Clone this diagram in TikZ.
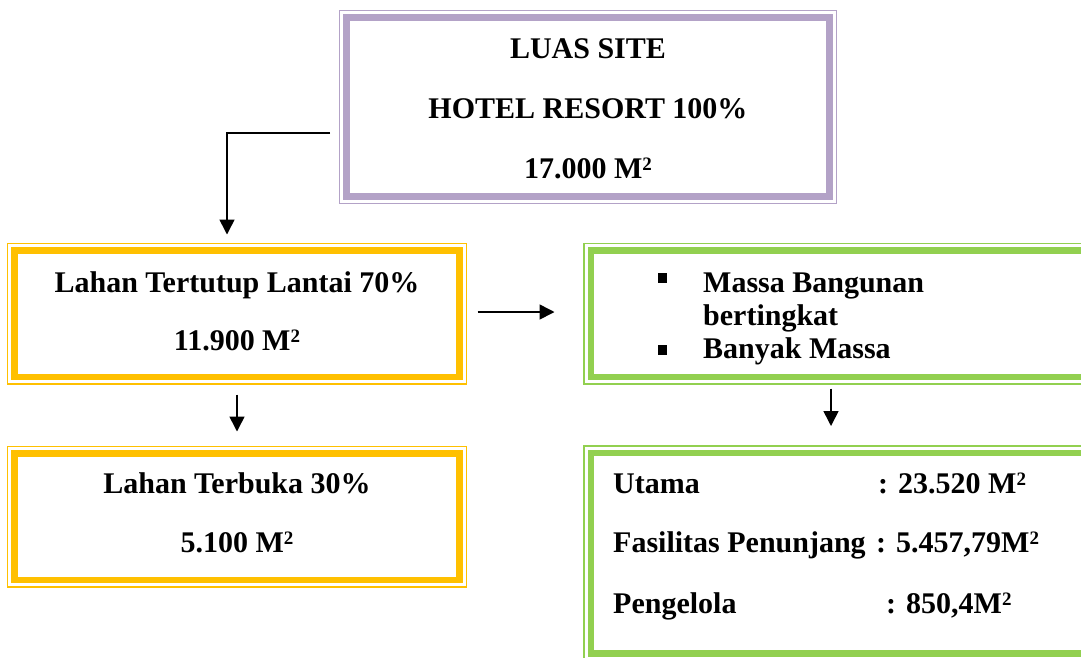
\documentclass[tikz,border=0pt]{standalone}
\usepackage{fontspec}
\setmainfont{Liberation Serif}
\usetikzlibrary{arrows.meta,calc}
\definecolor{lilac}{HTML}{B3A2C7}
\definecolor{amber}{HTML}{FFC000}
\definecolor{leaf}{HTML}{92D050}
\tikzset{
  frame/.style={draw=#1, line width=6.5pt, inner sep=0pt, outer sep=0pt,
    append after command={
      ([shift={(-7pt,7pt)}]\tikzlastnode.north west) edge[draw=#1, line width=1.3pt, to path={rectangle (\tikztotarget)}]
      ([shift={(7pt,-7pt)}]\tikzlastnode.south east)
    }},
  txt/.style={anchor=base, inner sep=0pt, font=\fontsize{30}{36}\selectfont\bfseries},
  txtl/.style={txt, anchor=base west},
  bullet/.style={fill=black, inner sep=0pt, minimum width=8.5pt, minimum height=10pt},
  link/.style={line width=1.6pt, -{Triangle[length=15pt,width=15pt]}}
}
\newcommand{\sqm}{M\raisebox{8pt}{\fontsize{19}{19}\selectfont 2}}
\begin{document}
\begin{tikzpicture}[x=1pt,y=-1pt]
  \clip (0,0) rectangle (1081,657);
  \fill[white] (0,0) rectangle (1081,657);

  % framed boxes
  \node[frame=lilac, minimum width=483pt, minimum height=179pt] (site) at (588,107) {};
  \node[frame=amber, minimum width=445pt, minimum height=126.5pt] (covered) at (237,313.75) {};
  \node[frame=amber, minimum width=445pt, minimum height=126.5pt] (open) at (237,516.75) {};
  \node[frame=leaf, minimum width=494pt, minimum height=126.5pt] (mass) at (838,313.75) {};
  \node[frame=leaf, minimum width=494pt, minimum height=200.5pt] (area) at (838,553.25) {};

  % site totals
  \node[txt] (site1) at (588,58) {LUAS SITE};
  \node[txt] (site2) at (588,118) {HOTEL RESORT 100\%};
  \node[txt] (site3) at (588,178) {17.000 \sqm};

  % built-up land
  \node[txt] (cov1) at (237,292) {Lahan Tertutup Lantai 70\%};
  \node[txt] (cov2) at (237,350) {11.900 \sqm};

  % open land
  \node[txt] (open1) at (237,493) {Lahan Terbuka 30\%};
  \node[txt] (open2) at (237,552) {5.100 \sqm};

  % building mass
  \node[bullet] (b1) at (662.5,278) {};
  \node[bullet] (b2) at (662.5,350) {};
  \node[txtl] (mass1) at (703,292) {Massa Bangunan};
  \node[txtl] (mass2) at (703,325) {bertingkat};
  \node[txtl] (mass3) at (703,358) {Banyak Massa};

  % floor areas
  \node[txtl] (ar1) at (613,493) {Utama};
  \node[txtl] (ar1v) at (878,493) {: 23.520 \sqm};
  \node[txtl] (ar2) at (613,552) {Fasilitas Penunjang};
  \node[txtl] (ar2v) at (876,552) {: 5.457,79\sqm};
  \node[txtl] (ar3) at (613,613) {Pengelola};
  \node[txtl] (ar3v) at (886,613) {: 850,4\sqm};

  % connectors
  \coordinate (s0) at ($(site.west)+(-16.5pt,-26pt)$);
  \coordinate (s1) at ($(covered.north)+(-10pt,16pt)$);
  \draw[link] (s0) -| (s1);
  \draw[link] ($(covered.east)+(18pt,1.75pt)$) -- ($(mass.west)+(-36.5pt,1.75pt)$);
  \draw[link] ($(covered.south)+(0,-17.5pt)$) -- ($(open.north)+(0,22pt)$);
  \draw[link] ($(mass.south)+(-7pt,-11.5pt)$) -- ($(area.north)+(-7pt,27pt)$);
\end{tikzpicture}
\end{document}
